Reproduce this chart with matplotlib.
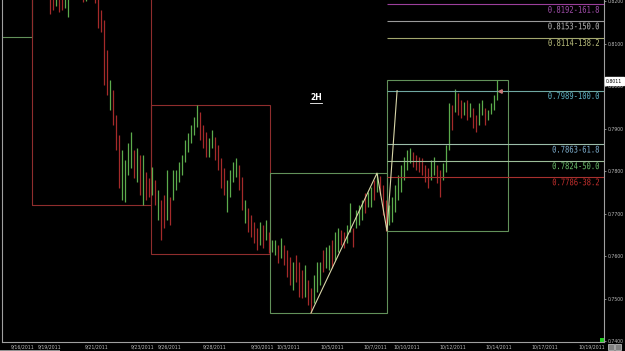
# 2H EURGBP-style bar chart with weekly boxes and an AB=CD fib projection

import matplotlib
matplotlib.use("Agg")
import matplotlib.pyplot as plt
from matplotlib.patches import Rectangle, PathPatch
from matplotlib.textpath import TextPath
from matplotlib.font_manager import FontProperties
from matplotlib.transforms import Affine2D, ScaledTranslation

# bar highs / lows (one bar per index), direction g = up, r = down
bar_high = [
    0.8237, 0.8226, 0.8230, 0.8221, 0.8226, 0.8214, 0.8209, 0.8249, 0.8261, 0.8273,
    0.8261, 0.8249, 0.8244, 0.8254, 0.8249, 0.8237, 0.8214, 0.8178, 0.8155, 0.8084,
    0.8014, 0.7990, 0.7931, 0.7884, 0.7849, 0.7826, 0.7866, 0.7891, 0.7849, 0.7854,
    0.7837, 0.7837, 0.7797, 0.7783, 0.7809, 0.7778, 0.7755, 0.7731, 0.7743, 0.7802,
    0.7738, 0.7802, 0.7802, 0.7821, 0.7837, 0.7873, 0.7889, 0.7908, 0.7927, 0.7955,
    0.7938, 0.7908, 0.7891, 0.7877, 0.7896, 0.7880, 0.7861, 0.7830, 0.7807, 0.7778,
    0.7802, 0.7821, 0.7830, 0.7814, 0.7785, 0.7731, 0.7713, 0.7696, 0.7680, 0.7666,
    0.7680, 0.7673, 0.7684, 0.7656, 0.7637, 0.7637, 0.7625, 0.7642, 0.7625, 0.7614,
    0.7597, 0.7585, 0.7602, 0.7585, 0.7567, 0.7578, 0.7543, 0.7524, 0.7555, 0.7585,
    0.7585, 0.7614, 0.7621, 0.7625, 0.7637, 0.7656, 0.7666, 0.7661, 0.7656, 0.7673,
    0.7724, 0.7666, 0.7708, 0.7720, 0.7731, 0.7748, 0.7750, 0.7762, 0.7778, 0.7795,
    0.7788, 0.7767, 0.7731, 0.7720, 0.7738, 0.7767, 0.7790, 0.7814, 0.7833, 0.7849,
    0.7854, 0.7844, 0.7837, 0.7833, 0.7830, 0.7814, 0.7807, 0.7826, 0.7833, 0.7814,
    0.7802, 0.7818, 0.7861, 0.7960, 0.7955, 0.7993, 0.7983, 0.7967, 0.7962, 0.7967,
    0.7960, 0.7948, 0.7931, 0.7960, 0.7967, 0.7948, 0.7943, 0.7960, 0.7978, 0.8014,
]
bar_low = [
    0.8169, 0.8178, 0.8188, 0.8174, 0.8178, 0.8183, 0.8162, 0.8207, 0.8214, 0.8221,
    0.8214, 0.8197, 0.8200, 0.8209, 0.8207, 0.8195, 0.8136, 0.8127, 0.8002, 0.7978,
    0.7943, 0.7908, 0.7849, 0.7760, 0.7731, 0.7727, 0.7790, 0.7807, 0.7783, 0.7774,
    0.7743, 0.7720, 0.7731, 0.7738, 0.7743, 0.7720, 0.7684, 0.7637, 0.7666, 0.7684,
    0.7673, 0.7731, 0.7755, 0.7774, 0.7790, 0.7821, 0.7844, 0.7866, 0.7884, 0.7903,
    0.7873, 0.7854, 0.7833, 0.7833, 0.7854, 0.7826, 0.7802, 0.7760, 0.7743, 0.7703,
    0.7738, 0.7774, 0.7785, 0.7755, 0.7708, 0.7677, 0.7656, 0.7644, 0.7630, 0.7614,
    0.7625, 0.7618, 0.7637, 0.7607, 0.7609, 0.7602, 0.7583, 0.7595, 0.7578, 0.7550,
    0.7531, 0.7520, 0.7538, 0.7503, 0.7501, 0.7503, 0.7484, 0.7466, 0.7489, 0.7515,
    0.7531, 0.7562, 0.7571, 0.7567, 0.7571, 0.7590, 0.7609, 0.7625, 0.7618, 0.7630,
    0.7656, 0.7621, 0.7666, 0.7673, 0.7684, 0.7701, 0.7715, 0.7715, 0.7731, 0.7750,
    0.7743, 0.7696, 0.7659, 0.7673, 0.7680, 0.7703, 0.7731, 0.7750, 0.7778, 0.7802,
    0.7818, 0.7809, 0.7802, 0.7797, 0.7790, 0.7774, 0.7760, 0.7778, 0.7790, 0.7771,
    0.7738, 0.7778, 0.7797, 0.7849, 0.7896, 0.7938, 0.7931, 0.7924, 0.7931, 0.7920,
    0.7927, 0.7901, 0.7891, 0.7908, 0.7931, 0.7908, 0.7920, 0.7934, 0.7943, 0.7967,
]
bar_dir = (
    "rrgrrggggr" "rrgrrrrrrr" "grrrggggrg" "rgrrgrgrrg" "rggggggggg"
    "rrrggrrrrg" "gggrrgrrrr" "grgrggrgrr" "rgrrrgrrgg" "grggrggrrg"
    "grgggrggrg" "rrrggggggg" "grrrrrrggr" "rgggrgrrgr" "grrggrgggg"
)

# weekly boxes (bar index of start / end, high, low, colour of week)
week_start = [-20, -6, 33.67, 73.33, 112.33]
week_end = [-6, 33.67, 73.33, 112.33, 152.67]
week_high = [0.8300, 0.8300, 0.7955, 0.7795, 0.8014]
week_low = [0.8115, 0.7720, 0.7605, 0.7466, 0.7659]
week_dir = ["g", "r", "r", "g", "g"]

# AB=CD swing points
swing_x = [87, 109, 112.33, 115.7]
swing_price = [0.7466, 0.7795, 0.7659, 0.7989]

# fib projection levels
fib_pct = ["161.8", "150.0", "138.2", "100.0", "61.8", "50.0", "38.2"]
fib_price = [0.8192, 0.8153, 0.8114, 0.7989, 0.7863, 0.7824, 0.7786]
fib_line_colors = ["#9b3f9b", "#9a9a9a", "#a3a76e", "#6fa8a2", "#9cbdaa", "#9cbd98", "#a8302e"]
fib_text_colors = ["#a650b0", "#b8b8b8", "#bcc07e", "#5fb4c6", "#80b2d2", "#6cc06c", "#c4302e"]

last_price = 0.8011

date_pos = [-9, 0, 15.7, 31, 40, 55, 70.7, 79.3, 94, 108.3, 119, 134.3, 149.7, 165, 180.7]
date_labels = ["9/16/2011", "9/19/2011", "9/21/2011", "9/23/2011", "9/26/2011",
               "9/28/2011", "9/30/2011", "10/3/2011", "10/5/2011", "10/7/2011",
               "10/10/2011", "10/12/2011", "10/14/2011", "10/17/2011", "10/19/2011"]
price_ticks = [0.74, 0.75, 0.76, 0.77, 0.78, 0.79, 0.80, 0.81, 0.82]

GREEN = "#5cab4c"
RED = "#a52a2a"
BOX = {"g": "#62915a", "r": "#8f2d2d"}

fig = plt.figure(figsize=(6.25, 3.51), dpi=100, facecolor="black")
ax = fig.add_axes([2 / 625, 9 / 351, 602 / 625, 342 / 351], facecolor="black")

# weekly boxes
for x0, x1, hi, lo, d in zip(week_start, week_end, week_high, week_low, week_dir):
    ax.add_patch(Rectangle((x0, lo), x1 - x0, hi - lo, fill=False,
                           edgecolor=BOX[d], linewidth=0.8))

# bars
xs = list(range(len(bar_high)))
colors = [GREEN if d == "g" else RED for d in bar_dir]
ax.vlines(xs, bar_low, bar_high, colors=colors, linewidth=0.9)

# fib lines and labels
xmax = 184.67
ax.hlines(fib_price, week_start[4], xmax, colors=fib_line_colors, linewidth=0.8)

mono = FontProperties(family="DejaVu Sans Mono")
k = fig.dpi / 72
for pct, price, tc in zip(fib_pct, fib_price, fib_text_colors):
    s = f"{price:.4f}-{pct}"
    tp = TextPath((0, 0), s, size=6.6, prop=mono)
    ext = tp.get_extents()
    tr = (Affine2D().translate(-ext.x1, -ext.y1).scale(0.78 * k, k).translate(0, -1.5)
          + ScaledTranslation(0.9917, price, ax.get_yaxis_transform()))
    ax.add_patch(PathPatch(tp, transform=tr, facecolor=tc, edgecolor="none"))

# zigzag
ax.plot(swing_x, swing_price, color="#d8d6a8", linewidth=0.8)
ax.plot([150], [0.7989], marker="<", markersize=2.5, color="#c87878")

# 2H label
ax.text(0.5216, 0.716, "2H", transform=ax.transAxes, color="white",
        fontsize=5.5, fontweight="bold", ha="center", va="center")
ax.plot([0.512, 0.531], [0.700, 0.700], transform=ax.transAxes, color="white", linewidth=0.6)

# last price box
ax.annotate(f"{last_price:.4f}", xy=(1.0, last_price), xycoords=ax.get_yaxis_transform(),
            xytext=(1.5, 0), textcoords="offset points", fontsize=3.3, color="black",
            ha="left", va="center", annotation_clip=False,
            bbox=dict(boxstyle="square,pad=0.3", facecolor="white", edgecolor="white"))

# small green marker at bottom right corner
ax.add_patch(Rectangle((0.993, 0.0), 0.007, 0.012, transform=ax.transAxes,
                       facecolor="#22cc22", edgecolor="none"))

ax.set_xlim(-16, xmax)
ax.set_ylim(0.73977, 0.82024)

ax.yaxis.tick_right()
ax.set_yticks(price_ticks)
ax.set_yticklabels([f"{p:.4f}" for p in price_ticks])
ax.set_xticks(date_pos)
ax.set_xticklabels(date_labels)
ax.tick_params(axis="y", colors="#bdbdbd", labelsize=3.3, length=1.5, width=0.5, pad=1)
ax.tick_params(axis="x", colors="#bdbdbd", labelsize=3.3, length=0, pad=1.5)

for side in ["left", "right", "bottom"]:
    ax.spines[side].set_color("#a0a0a0")
    ax.spines[side].set_linewidth(0.8)
ax.spines["top"].set_visible(False)

# bottom-right window icons and scrollbar strip
fig.patches.append(Rectangle((608 / 625, 1 / 351), 6 / 625, 6 / 351, transform=fig.transFigure,
                             facecolor="#808080", edgecolor="#d0d0d0", linewidth=0.5))
fig.patches.append(Rectangle((615 / 625, 1 / 351), 6 / 625, 6 / 351, transform=fig.transFigure,
                             facecolor="#808080", edgecolor="#d0d0d0", linewidth=0.5))
fig.patches.append(Rectangle((0, 0), 60 / 625, 1.5 / 351, transform=fig.transFigure,
                             facecolor="#909090", edgecolor="none"))

fig.savefig("out.png", dpi=100, facecolor="black")
